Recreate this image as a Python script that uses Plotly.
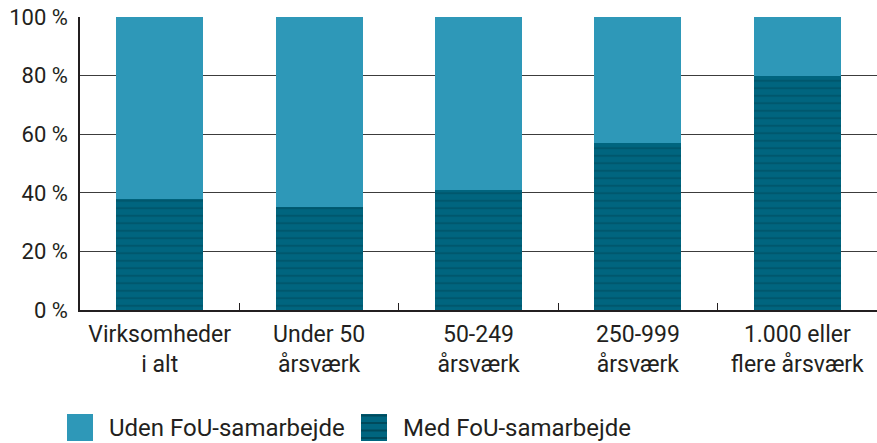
import plotly.graph_objects as go

categories = ["Virksomheder<br>i alt", "Under 50<br>årsværk", "50-249<br>årsværk", "250-999<br>årsværk", "1.000 eller<br>flere årsværk"]
med_fou = [38, 35, 41, 57, 80]
uden_fou = [62, 65, 59, 43, 20]
series_names = ["Uden FoU-samarbejde", "Med FoU-samarbejde"]
y_ticks = [0, 20, 40, 60, 80, 100]
y_labels = ["0 %", "20 %", "40 %", "60 %", "80 %", "100 %"]

FONT = "Roboto, sans-serif"
LIGHT = "#2E98B8"
DARK = "#00657F"
STRIPE = "#004A5C"
TEXT = "#231F20"

W, H = 877, 443
ML, MR, MT, MB = 80, 0, 17, 133
PW, PH = W - ML - MR, H - MT - MB

fig = go.Figure()
fig.add_trace(go.Bar(
    x=categories, y=med_fou, name=series_names[1], showlegend=False,
    marker=dict(color=DARK, line=dict(width=0),
                pattern=dict(shape="-", fgcolor=STRIPE, bgcolor=DARK, size=7.5, solidity=0.28)),
))
fig.add_trace(go.Bar(
    x=categories, y=uden_fou, name=series_names[0], showlegend=False,
    marker=dict(color=LIGHT, line=dict(width=0)),
))

# manual legend (large square swatches like the reference)
def px(xf):
    return (xf - ML) / PW

def py(yf):
    return (H - MB - yf) / PH

shapes = []
annotations = []
legend_items = [(67, 107, LIGHT, False, series_names[0]), (361, 401, DARK, True, series_names[1])]
for x0, tx, col, striped, label in legend_items:
    shapes.append(dict(type="rect", xref="paper", yref="paper", x0=px(x0), x1=px(x0 + 26),
                       y0=py(441), y1=py(414), fillcolor=col, line=dict(width=0), layer="above"))
    if striped:
        for sy in [415.5, 423, 430.5, 438]:
            shapes.append(dict(type="line", xref="paper", yref="paper", x0=px(x0), x1=px(x0 + 26),
                               y0=py(sy), y1=py(sy), line=dict(color=STRIPE, width=2), layer="above"))
    annotations.append(dict(xref="paper", yref="paper", x=px(tx), y=py(428), xanchor="left", yanchor="middle",
                            text=label, showarrow=False, font=dict(family=FONT, size=24, color=TEXT)))

fig.update_layout(
    barmode="stack",
    bargap=0.455,
    width=W, height=H,
    margin=dict(l=ML, r=MR, t=MT, b=MB, autoexpand=False),
    plot_bgcolor="white", paper_bgcolor="white",
    font=dict(family=FONT, size=22, color=TEXT),
    showlegend=False,
    shapes=shapes,
    annotations=annotations,
    xaxis=dict(showline=True, linecolor=TEXT, linewidth=1.5,
               ticks="inside", tickson="boundaries", ticklen=7, tickcolor=TEXT, tickwidth=1,
               tickfont=dict(size=23, color=TEXT), showgrid=False, automargin=False,
               ticklabelstandoff=3),
    yaxis=dict(range=[0, 100], tickvals=y_ticks, ticktext=y_labels,
               showline=True, linecolor=TEXT, linewidth=1.5,
               showgrid=True, gridcolor="#3c3c3c", gridwidth=1,
               ticks="", tickfont=dict(size=22, color=TEXT), zeroline=False,
               ticklabelstandoff=6, automargin=False),
)
fig.write_html("out.html", config={"displayModeBar": False},
               post_script="document.body.style.margin='0';")
